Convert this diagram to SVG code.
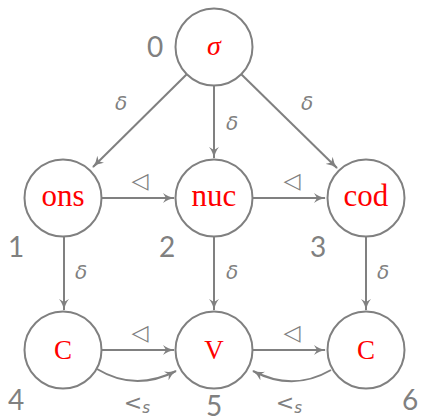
<svg xmlns="http://www.w3.org/2000/svg" width="421" height="420" viewBox="0 0 421 420">
<defs>
<marker id="ah" viewBox="0 0 12 10" refX="11" refY="5" markerWidth="12" markerHeight="10" markerUnits="userSpaceOnUse" orient="auto">
<path d="M0,0 Q5,4 12,5 Q5,6 0,10 L3,5 Z" fill="#808080"/>
</marker>
<style>
.n{fill:#fff;stroke:#808080;stroke-width:2}
.t{font-family:"Liberation Serif",serif;font-size:31px;fill:#ff0000;text-anchor:middle}
.e{fill:none;stroke:#808080;stroke-width:2;marker-end:url(#ah)}
.l{font-family:"DejaVu Sans","Liberation Sans",sans-serif;font-size:20px;fill:#808080;font-style:italic;text-anchor:middle}
.tri{font-family:"DejaVu Sans",sans-serif;font-size:22px;fill:#808080;text-anchor:middle}
.num{font-family:"Lato","Liberation Sans",sans-serif;font-size:28px;fill:#808080;text-anchor:middle}
</style>
</defs>
<g id="edges">
<path class="e" d="M187,74 L93,167"/>
<path class="e" d="M214,85 L214,158"/>
<path class="e" d="M241,74 L337,168"/>
<path class="e" d="M102,198 L174,198"/>
<path class="e" d="M253,198 L325,198"/>
<path class="e" d="M64,237 L64,310"/>
<path class="e" d="M214,237 L214,310"/>
<path class="e" d="M366,237 L366,310"/>
<path class="e" d="M102,350 L174,350"/>
<path class="e" d="M253,350 L325,350"/>
<path class="e" d="M97,369 Q135,392 176,371"/>
<path class="e" d="M331,370 Q293,392 253,371"/>
<text class="l" x="121" y="110">δ</text>
<text class="l" x="232" y="130">δ</text>
<text class="l" x="307" y="110">δ</text>
<text class="l" x="81" y="279">δ</text>
<text class="l" x="232" y="279">δ</text>
<text class="l" x="383" y="279">δ</text>
<text class="tri" x="140" y="188">◁</text>
<text class="tri" x="292" y="188">◁</text>
<text class="tri" x="140" y="340">◁</text>
<text class="tri" x="292" y="340">◁</text>
<text class="l" x="137" y="410" style="font-style:normal;font-size:22px">&lt;<tspan font-style="italic" font-size="15" dy="3">s</tspan></text>
<text class="l" x="289" y="410" style="font-style:normal;font-size:22px">&lt;<tspan font-style="italic" font-size="15" dy="3">s</tspan></text>
</g>
<g id="n0"><circle class="n" cx="214" cy="47" r="38.5"/><text class="t" x="214" y="55" style="font-style:italic;font-size:28px">σ</text><text class="num" x="155" y="57">0</text></g>
<g id="n1"><circle class="n" cx="63" cy="198" r="38.5"/><text class="t" x="63" y="206">ons</text><text class="num" x="16" y="257">1</text></g>
<g id="n2"><circle class="n" cx="214" cy="198" r="38.5"/><text class="t" x="214" y="206">nuc</text><text class="num" x="167" y="257">2</text></g>
<g id="n3"><circle class="n" cx="366" cy="198" r="38.5"/><text class="t" x="366" y="206">cod</text><text class="num" x="318" y="257">3</text></g>
<g id="n4"><circle class="n" cx="63" cy="350" r="38.5"/><text class="t" x="63" y="359" style="font-size:27px">C</text><text class="num" x="16" y="410">4</text></g>
<g id="n5"><circle class="n" cx="214" cy="350" r="38.5"/><text class="t" x="214" y="359" style="font-size:27px">V</text><text class="num" x="214" y="416">5</text></g>
<g id="n6"><circle class="n" cx="366" cy="350" r="38.5"/><text class="t" x="366" y="359" style="font-size:27px">C</text><text class="num" x="410" y="410">6</text></g>
</svg>
